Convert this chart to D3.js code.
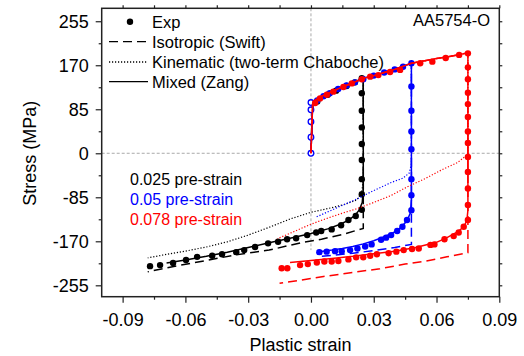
<!DOCTYPE html>
<html>
<head>
<meta charset="utf-8">
<script src="https://cdn.jsdelivr.net/npm/d3@7"></script>
<style>
    body { margin: 0; background: #fff; }
    text { font-family: "Liberation Sans", Arial, sans-serif; }
</style>
</head>
<body>
<div id="chart"></div>
<script>

// axis ticks
const xTicks = [-0.09, -0.06, -0.03, 0, 0.03, 0.06, 0.09];
const xTickLabels = ["-0.09", "-0.06", "-0.03", "0.00", "0.03", "0.06", "0.09"];
const xMinor = [-0.075, -0.045, -0.015, 0.015, 0.045, 0.075];
const yTicks = [-255, -170, -85, 0, 85, 170, 255];
const yTickLabels = ["-255", "-170", "-85", "0", "85", "170", "255"];
const yMinor = [-212.5, -127.5, -42.5, 42.5, 127.5, 212.5];

// [plastic strain, stress MPa]
// shared forward hardening of the three models
const forwardModel = [[0, 0], [0.0008, 95], [0.002, 103], [0.005, 110], [0.01, 119], [0.015, 128],
    [0.02, 136], [0.025, 145], [0.03, 150], [0.035, 156], [0.04, 162], [0.048, 174], [0.055, 179],
    [0.06, 183], [0.065, 186], [0.07, 190], [0.075, 194]];

// 0.025 pre-strain
const expBlack = [[0.003, 100], [0.008, 113], [0.012, 121], [0.017, 130], [0.021, 137], [0.0243, 145],
    [0.0243, 116], [0.0243, 82], [0.0243, 50], [0.0243, 18], [0.0243, -13], [0.0243, -50], [0.0243, -79],
    [0.0243, -109], [0.0214, -121], [0.0179, -129], [0.0144, -139], [0.0099, -147], [0.0049, -150],
    [0.0025, -153], [-0.0018, -158], [-0.0071, -164], [-0.0114, -166], [-0.0157, -171], [-0.0205, -174],
    [-0.0267, -181], [-0.0319, -187], [-0.0357, -191], [-0.0425, -195], [-0.0472, -198], [-0.0544, -200],
    [-0.0597, -206], [-0.0659, -212], [-0.0721, -216], [-0.0769, -218]];
const isoBlack = [[0.025, -145], [0.015, -157], [0.005, -166], [-0.004, -172], [-0.02, -187], [-0.037, -197],
    [-0.05, -207], [-0.065, -218], [-0.078, -229]];
const kinBlack = [[0.025, -48], [0.0243, -75], [0.022, -90], [0.016, -99], [0.01, -105], [0, -114],
    [-0.01, -127], [-0.02, -143], [-0.03, -158], [-0.04, -171], [-0.05, -181], [-0.06, -189], [-0.07, -196],
    [-0.078, -202]];
const mixBlack = [[0.025, -70], [0.0245, -95], [0.023, -110], [0.021, -120], [0.018, -129], [0.014, -137],
    [0.008, -146], [0, -155], [-0.01, -164], [-0.02, -173], [-0.03, -182], [-0.04, -191], [-0.05, -199],
    [-0.06, -206], [-0.069, -212]];

// 0.05 pre-strain
const expBlueElastic = [[0, 0], [0, 31], [0, 61], [0, 84], [0, 98]];
const expBlue = [[0.003, 102], [0.006, 110], [0.009, 116], [0.013, 124], [0.017, 131], [0.021, 137],
    [0.025, 143], [0.03, 150], [0.035, 156], [0.04, 162], [0.044, 167], [0.048, 174],
    [0.048, 129], [0.048, 82], [0.048, 42], [0.048, 8], [0.048, -50], [0.048, -81], [0.048, -110],
    [0.0459, -129], [0.0437, -142], [0.0412, -150], [0.0383, -158], [0.0359, -163], [0.0335, -167],
    [0.029, -176], [0.0259, -180], [0.0222, -184], [0.0187, -187], [0.0147, -189], [0.0115, -189],
    [0.0075, -190], [0.004, -191]];
const isoBlue = [[0.048, -176], [0.04, -182], [0.03, -188], [0.02, -193], [0.01, -197], [0.003, -200]];
const kinBlue = [[0.048, -20], [0.047, -38], [0.044, -48], [0.038, -57], [0.03, -72], [0.022, -88],
    [0.012, -106], [0.002, -124]];
const mixBlue = [[0.048, -90], [0.0475, -115], [0.046, -130], [0.043, -143], [0.04, -152], [0.035, -161],
    [0.03, -169], [0.025, -175], [0.02, -180], [0.015, -184], [0.01, -187], [0.004, -190]];

// 0.078 pre-strain
const expRed = [[0.002, 97], [0.0043, 106], [0.0076, 113], [0.0107, 119], [0.0155, 128], [0.0195, 135],
    [0.0243, 143], [0.0283, 148], [0.0322, 151], [0.0378, 157], [0.0426, 161], [0.0522, 174], [0.058, 177],
    [0.0644, 184], [0.0708, 190], [0.075, 193],
    [0.075, 166], [0.075, 143], [0.075, 117], [0.075, 95], [0.075, 70], [0.075, 42], [0.075, 20],
    [0.075, -7], [0.075, -36], [0.075, -68], [0.075, -100], [0.075, -129],
    [0.073, -142], [0.0706, -153], [0.0682, -160], [0.0638, -166], [0.059, -176], [0.0571, -177],
    [0.0515, -184], [0.0483, -185], [0.0443, -187], [0.0408, -190], [0.0371, -193], [0.0315, -195],
    [0.0283, -198], [0.025, -201], [0.0216, -201], [0.0179, -205], [0.0131, -208], [0.0099, -209],
    [0.0064, -209], [0.0028, -211], [-0.0015, -214], [-0.0052, -216], [-0.0113, -222], [-0.014, -222]];
const isoRed = [[0.075, -192], [0.065, -200], [0.055, -208], [0.045, -214], [0.033, -223], [0.02, -230],
    [0.006, -238], [-0.005, -245], [-0.015, -251]];
const kinRed = [[0.075, -2], [0.07, -18], [0.062, -33], [0.055, -48], [0.046, -65], [0.038, -82],
    [0.03, -95], [0.022, -107], [0.014, -117], [0.006, -128], [0, -137], [-0.008, -151], [-0.016, -165]];
const mixRed = [[0.075, -110], [0.0745, -130], [0.073, -142], [0.07, -152], [0.065, -163], [0.06, -172],
    [0.05, -182], [0.04, -189], [0.03, -194], [0.02, -199], [0.01, -203], [0, -207], [-0.01, -211]];

const preStrainLabels = ["0.025 pre-strain", "0.05 pre-strain", "0.078 pre-strain"];
const legendLabels = ["Exp", "Isotropic (Swift)", "Kinematic (two-term Chaboche)", "Mixed (Zang)"];


class StressChart {

    constructor(parentElement) {
        this.parentElement = parentElement;
        this.initVis();
    }

    initVis() {
        let vis = this;

        vis.width = 524;
        vis.height = 356;

        vis.svg = d3.select("#" + vis.parentElement).append("svg")
            .attr("width", vis.width)
            .attr("height", vis.height);

        vis.x = d3.scaleLinear().domain([-0.1, 0.09]).range([101.7, 499.3]);
        vis.y = d3.scaleLinear().domain([-277, 280]).range([296.7, 8.3]);

        vis.line = d3.line()
            .x(d => vis.x(d[0]))
            .y(d => vis.y(d[1]));

        vis.drawGrid();
        vis.drawSeries();
        vis.drawAxes();
        vis.drawLegend();
    }

    drawGrid() {
        let vis = this;
        // zero lines
        vis.svg.append("line")
            .attr("x1", vis.x(-0.1)).attr("x2", vis.x(0.09))
            .attr("y1", vis.y(0)).attr("y2", vis.y(0))
            .attr("stroke", "#aaa").attr("stroke-width", 1)
            .attr("stroke-dasharray", "3,2");
        vis.svg.append("line")
            .attr("x1", vis.x(0)).attr("x2", vis.x(0))
            .attr("y1", vis.y(280)).attr("y2", vis.y(-187))
            .attr("stroke", "#aaa").attr("stroke-width", 1)
            .attr("stroke-dasharray", "3,2");
    }

    drawSeries() {
        let vis = this;
        let groups = [
            {color: "#000", pre: 0.025, exp: expBlack, iso: isoBlack, kin: kinBlack, mix: mixBlack},
            {color: "#0000ff", pre: 0.048, exp: expBlue, iso: isoBlue, kin: kinBlue, mix: mixBlue, open: expBlueElastic},
            {color: "#ff0000", pre: 0.075, exp: expRed, iso: isoRed, kin: kinRed, mix: mixRed}
        ];

        groups.forEach(g => {
            let fwd = forwardModel.filter(d => d[0] <= g.pre + 0.0001);
            let gg = vis.svg.append("g");

            gg.append("path").datum(fwd.concat(g.iso))
                .attr("d", vis.line).attr("fill", "none")
                .attr("stroke", g.color).attr("stroke-width", 1.5)
                .attr("stroke-dasharray", "9,5");
            gg.append("path").datum(fwd.concat(g.kin))
                .attr("d", vis.line).attr("fill", "none")
                .attr("stroke", g.color).attr("stroke-width", 1.2)
                .attr("stroke-dasharray", "1.2,1.8");
            gg.append("path").datum(fwd.concat(g.mix))
                .attr("d", vis.line).attr("fill", "none")
                .attr("stroke", g.color).attr("stroke-width", 1.5);

            if (g.open) {
                gg.selectAll(".open").data(g.open).enter().append("circle")
                    .attr("class", "open")
                    .attr("cx", d => vis.x(d[0])).attr("cy", d => vis.y(d[1]))
                    .attr("r", 2.8).attr("fill", "#fff")
                    .attr("stroke", g.color).attr("stroke-width", 1.3);
            }

            gg.selectAll(".pt").data(g.exp).enter().append("circle")
                .attr("class", "pt")
                .attr("cx", d => vis.x(d[0])).attr("cy", d => vis.y(d[1]))
                .attr("r", 3.2).attr("fill", g.color);
        });
    }

    drawAxes() {
        let vis = this;
        let x0 = vis.x.range()[0], x1 = vis.x.range()[1];
        let y0 = vis.y.range()[0], y1 = vis.y.range()[1];

        // bottom
        vis.svg.append("g")
            .attr("class", "x-axis axis")
            .attr("transform", `translate(0,${y0})`)
            .call(d3.axisBottom(vis.x).tickValues(xTicks)
                .tickFormat((d, i) => xTickLabels[i]).tickSize(6).tickSizeOuter(0).tickPadding(11));
        vis.svg.append("g")
            .attr("transform", `translate(0,${y0})`)
            .call(d3.axisBottom(vis.x).tickValues(xMinor).tickFormat("").tickSize(3).tickSizeOuter(0));

        // left
        vis.svg.append("g")
            .attr("class", "y-axis axis")
            .attr("transform", `translate(${x0},0)`)
            .call(d3.axisLeft(vis.y).tickValues(yTicks)
                .tickFormat((d, i) => yTickLabels[i]).tickSize(6).tickSizeOuter(0).tickPadding(7));
        vis.svg.append("g")
            .attr("transform", `translate(${x0},0)`)
            .call(d3.axisLeft(vis.y).tickValues(yMinor).tickFormat("").tickSize(3).tickSizeOuter(0));

        // top and right mirror ticks
        vis.svg.append("g")
            .attr("transform", `translate(0,${y1})`)
            .call(d3.axisTop(vis.x).tickValues(xTicks.concat(xMinor)).tickFormat("").tickSize(3).tickSizeOuter(0));
        vis.svg.append("g")
            .attr("transform", `translate(${x1},0)`)
            .call(d3.axisRight(vis.y).tickValues(yTicks.concat(yMinor)).tickFormat("").tickSize(3).tickSizeOuter(0));

        vis.svg.selectAll(".domain").remove();
        vis.svg.selectAll(".tick line").attr("stroke", "#222").attr("stroke-width", 1.2);
        vis.svg.selectAll(".tick text").attr("font-size", "18px").attr("fill", "#000");

        // frame
        vis.svg.append("rect")
            .attr("x", x0).attr("y", y1)
            .attr("width", x1 - x0).attr("height", y0 - y1)
            .attr("fill", "none").attr("stroke", "#222").attr("stroke-width", 1.5);

        // axis titles
        vis.svg.append("text")
            .attr("x", (x0 + x1) / 2).attr("y", 351)
            .attr("text-anchor", "middle").attr("font-size", "18px")
            .text("Plastic strain");
        vis.svg.append("text")
            .attr("transform", `translate(36,${vis.y(0)}) rotate(-90)`)
            .attr("text-anchor", "middle").attr("font-size", "18px")
            .text("Stress (MPa)");
    }

    drawLegend() {
        let vis = this;
        let rows = [21.7, 41.7, 62, 81.7];
        let dashes = [null, "9,5", "1.2,1.8", null];

        let leg = vis.svg.append("g").attr("class", "legend");
        leg.append("circle").attr("cx", 130).attr("cy", rows[0]).attr("r", 3.2).attr("fill", "#000");
        for (let i = 1; i < 4; i++) {
            leg.append("line")
                .attr("x1", 109).attr("x2", 148)
                .attr("y1", rows[i]).attr("y2", rows[i])
                .attr("stroke", "#000").attr("stroke-width", 1.3)
                .attr("stroke-dasharray", dashes[i]);
        }
        leg.selectAll("text").data(legendLabels).enter().append("text")
            .attr("x", 152).attr("y", (d, i) => rows[i] + 6)
            .attr("font-size", "16.5px")
            .text(d => d);

        vis.svg.append("text")
            .attr("x", 490).attr("y", 26)
            .attr("text-anchor", "end").attr("font-size", "16.5px")
            .text("AA5754-O");

        let colors = ["#000", "#0000ff", "#ff0000"];
        vis.svg.selectAll(".pre-label").data(preStrainLabels).enter().append("text")
            .attr("class", "pre-label")
            .attr("x", 130).attr("y", (d, i) => 185 + i * 20)
            .attr("font-size", "16px")
            .attr("fill", (d, i) => colors[i])
            .text(d => d);
    }
}

new StressChart("chart");
</script>
</body>
</html>
